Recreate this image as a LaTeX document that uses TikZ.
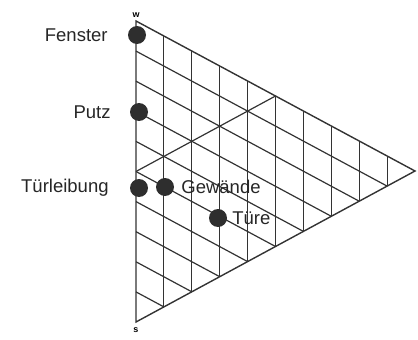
\documentclass[tikz,border=0pt]{standalone}
\usepackage{fontspec}
\setmainfont{Liberation Sans}
\usetikzlibrary{positioning,calc}
\definecolor{gridGray}{HTML}{333333}
\definecolor{dotGray}{HTML}{2E2E2E}

\begin{document}
\begin{tikzpicture}[x=1pt, y=-1pt,
    gridline/.style={draw=gridGray, line width=1.2pt},
    edge/.style={draw=gridGray, line width=1.4pt, line join=miter},
    dot/.style={circle, fill=dotGray, minimum size=18pt, inner sep=0pt},
    tag/.style={inner sep=0pt, text=black!85, font=\fontsize{18.5}{21}\selectfont},
    corner/.style={inner sep=0pt, font=\bfseries\fontsize{9}{10}\selectfont},
]
    \useasboundingbox (0,0) rectangle (418,340);
    \coordinate (W) at (136,21);
    \coordinate (S) at (136,322);
    \coordinate (R) at (415,171);
    % grid
    \foreach \k in {1,...,9} {
        \draw[gridline] ($(W)!\k/10!(S)$) -- ($(R)!\k/10!(S)$);
        \draw[gridline] ($(W)!\k/10!(R)$) -- ($(S)!\k/10!(R)$);
    }
    \draw[gridline] ($(W)!0.5!(S)$) -- ($(W)!0.5!(R)$);
    \draw[edge] (W) -- (R) -- (S) -- cycle;
    \node[corner, above=3pt of W] (wlabel) {w};
    \node[corner, below=5pt of S] (slabel) {s};
    % points
    \node[dot] (fenster) at (137,35) {};
    \node[dot] (putz) at (139,112) {};
    \node[dot] (leibung) at (139,188) {};
    \node[dot] (gewaende) at (165,187) {};
    \node[dot] (tuere) at (218,218) {};
    \node[tag, left=20pt of fenster] (fensterlabel) {Fenster};
    \node[tag, left=19pt of putz] (putzlabel) {Putz};
    \node[tag, left=21pt of leibung] (leibunglabel) {Türleibung};
    \node[tag, right=7pt of gewaende] (gewaendelabel) {Gewände};
    \node[tag, right=5pt of tuere] (tuerelabel) {Türe};
\end{tikzpicture}
\end{document}
